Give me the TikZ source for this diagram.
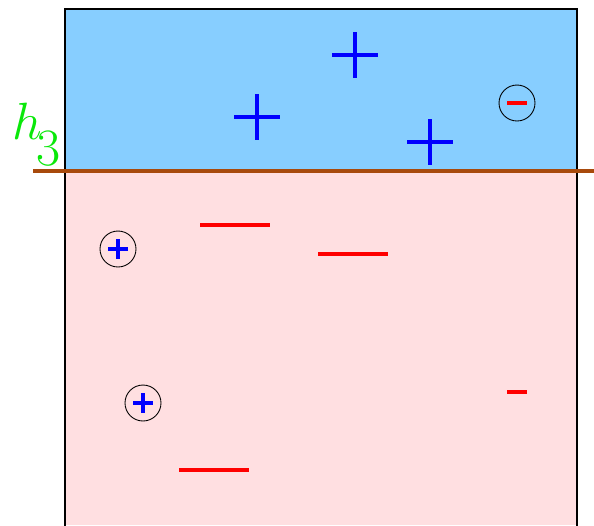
\documentclass[tikz,border=0pt]{standalone}
\usepackage{amsmath, amssymb}
\usetikzlibrary{positioning}
\usetikzlibrary{calc}

\definecolor{upper}{RGB}{135,206,255}
\definecolor{lower}{RGB}{255,223,225}
\definecolor{split}{RGB}{168,74,12}
\definecolor{lab}{RGB}{10,232,10}

\begin{document}
\begin{tikzpicture}[x=0.02cm,y=-0.02cm]

\tikzstyle{bp} = [draw=blue, line width=2.1pt]
\tikzstyle{rm} = [draw=red, line width=2.3pt]
\tikzstyle{sp} = [draw=blue, line width=2.8pt]
\tikzstyle{sm} = [draw=red, line width=2.8pt]
\tikzstyle{c} = [draw, shape=circle, minimum size=0.72cm, inner sep=0pt, line width=0.5pt]

\useasboundingbox (0,0) rectangle (594,525);
\fill[upper] (65,9) rectangle (577,171);
\fill[lower] (65,171) rectangle (577,525);
\draw[line width=0.8pt] (65,530) -- (65,9) -- (577,9) -- (577,530);
\draw[split, line width=2.8pt] (33,171) -- (594,171);
\node[text=lab, inner sep=0pt, anchor=base west] (h) at (12,139) {\scalebox{1.2}{\Huge$h$\kern-0.1em\raisebox{-0.5em}{$3$}}};

% big pluses
\foreach \x/\y in {355/55, 257/117, 430/142}{
    \draw[bp] (\x-23,\y) -- (\x+23,\y);
    \draw[bp] (\x,\y-23) -- (\x,\y+23);
}
% big minuses
\foreach \x/\y in {235/225, 353/254, 214/470}{
    \draw[rm] (\x-35,\y) -- (\x+35,\y);
}

% circled ones
\node[c] (m1) at (517,103) {};
\draw[sm] ($(m1)+(-10,0)$) -- ($(m1)+(10,0)$);
\node[c] (p1) at (118,249) {};
\draw[sp] ($(p1)+(-10,0)$) -- ($(p1)+(10,0)$);
\draw[sp] ($(p1)+(0,-10)$) -- ($(p1)+(0,10)$);
\node[c] (p2) at (143,403) {};
\draw[sp] ($(p2)+(-10,0)$) -- ($(p2)+(10,0)$);
\draw[sp] ($(p2)+(0,-10)$) -- ($(p2)+(0,10)$);

% lone small minus
\draw[sm] (507,392) -- (527,392);
\end{tikzpicture}
\end{document}
